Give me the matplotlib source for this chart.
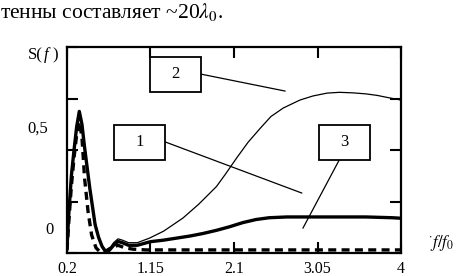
import matplotlib
matplotlib.use("Agg")
import matplotlib.pyplot as plt
from matplotlib.patches import Rectangle

plt.rcParams['font.family'] = ['Liberation Serif', 'DejaVu Serif']
plt.rcParams['mathtext.fontset'] = 'stix'

# curve 1 - thick solid
x1 = [0.20, 0.22, 0.25, 0.28, 0.31, 0.34, 0.37, 0.40, 0.43, 0.46, 0.49, 0.52,
      0.56, 0.60, 0.64, 0.68, 0.73, 0.78, 0.83, 0.90, 1.00, 1.15, 1.30, 1.45,
      1.60, 1.75, 1.90, 2.05, 2.20, 2.35, 2.50, 2.70, 3.00, 3.30, 3.60, 3.90, 4.00]
y1 = [0.02, 0.15, 0.30, 0.40, 0.49, 0.55, 0.50, 0.41, 0.33, 0.25, 0.18, 0.11,
      0.06, 0.025, 0.005, 0.01, 0.03, 0.045, 0.04, 0.03, 0.03, 0.044, 0.05, 0.058,
      0.066, 0.076, 0.088, 0.102, 0.118, 0.13, 0.137, 0.14, 0.14, 0.14, 0.14, 0.137, 0.135]

# curve 2 - thin solid
x2 = [0.20, 0.22, 0.25, 0.28, 0.31, 0.34, 0.37, 0.40, 0.43, 0.46, 0.49, 0.52,
      0.56, 0.60, 0.64, 0.68, 0.73, 0.78, 0.83, 0.90, 1.00, 1.14, 1.30, 1.52,
      1.70, 1.90, 2.00, 2.13, 2.26, 2.40, 2.52, 2.66, 2.85, 3.00, 3.16, 3.30,
      3.45, 3.60, 3.73, 3.86, 4.00]
y2 = [0.03, 0.17, 0.32, 0.41, 0.50, 0.55, 0.50, 0.42, 0.34, 0.26, 0.19, 0.12,
      0.065, 0.03, 0.01, 0.015, 0.04, 0.055, 0.05, 0.04, 0.04, 0.058, 0.085, 0.136,
      0.19, 0.258, 0.305, 0.369, 0.43, 0.485, 0.53, 0.563, 0.594, 0.61, 0.621, 0.624,
      0.622, 0.618, 0.612, 0.603, 0.594]

# curve 3 - dashed
x3 = [0.20, 0.22, 0.25, 0.28, 0.31, 0.34, 0.37, 0.40, 0.44, 0.48, 0.53, 0.58,
      0.63, 0.70, 0.78, 0.86, 0.95, 1.10, 1.50, 2.00, 2.50, 3.00, 3.50, 4.00]
y3 = [0.01, 0.12, 0.26, 0.37, 0.46, 0.51, 0.45, 0.29, 0.16, 0.07, 0.02, 0.003,
      0.005, 0.02, 0.03, 0.02, 0.015, 0.012, 0.012, 0.012, 0.012, 0.012, 0.012, 0.012]

xticks = [0.2, 1.15, 2.1, 3.05, 4]
xtick_labels = ['0.2', '1.15', '2.1', '3.05', '4']
yticks = [0, 0.2, 0.4, 0.6, 0.8]

# annotation boxes: label, box centre, start of leader line, end of leader line
notes = [
    ('2', (1.43, 0.695), (1.72, 0.695), (2.68, 0.629)),
    ('1', (1.03, 0.431), (1.32, 0.431), (2.87, 0.233)),
    ('3', (3.36, 0.431), (3.30, 0.363), (2.885, 0.097)),
]

fig = plt.figure(figsize=(4.63, 2.76), dpi=100)
ax = fig.add_axes([0.1447, 0.0833, 0.7214, 0.7464])

ax.plot(x2, y2, color='black', lw=0.9)
ax.plot(x1, y1, color='black', lw=2.4)
ax.plot(x3, y3, color='black', lw=2.4, linestyle=(0, (2.4, 1.6)))

ax.set_xlim(0.2, 4)
ax.set_ylim(0, 0.8)
ax.set_xticks(xticks)
ax.set_xticklabels(xtick_labels, fontsize=11.5)
ax.set_yticks(yticks)
ax.set_yticklabels([])
ax.tick_params(direction='in', length=8, width=1.5, top=True, right=True, pad=6)
for s in ax.spines.values():
    s.set_linewidth(1.6)

bw, bh = 0.58, 0.136
for label, (cx, cy), (sx, sy), (ex, ey) in notes:
    ax.add_patch(Rectangle((cx - bw / 2, cy - bh / 2), bw, bh, fill=True,
                           facecolor='white', edgecolor='black', lw=1.3, zorder=5))
    ax.text(cx, cy, label, ha='center', va='center', fontsize=12, zorder=6)
    ax.plot([sx, ex], [sy, ey], color='black', lw=0.9)

fig.text(0.0, 0.955, r'тенны составляет ~20$\lambda_{0}$.', fontsize=15.5,
         ha='left', va='center')
fig.text(0.06, 0.80, 'S(', fontsize=12, ha='left', va='center')
fig.text(0.094, 0.80, 'f', fontsize=12, ha='left', va='center', style='italic')
fig.text(0.113, 0.80, ')', fontsize=12, ha='left', va='center')
fig.text(0.06, 0.535, '0,5', fontsize=12, ha='left', va='center')
fig.text(0.097, 0.165, '0', fontsize=12, ha='left', va='center')
fig.text(0.925, 0.12, r'$^{\cdot}f/f_0$', fontsize=12, ha='left', va='center')

fig.savefig('out.png', dpi=100)
